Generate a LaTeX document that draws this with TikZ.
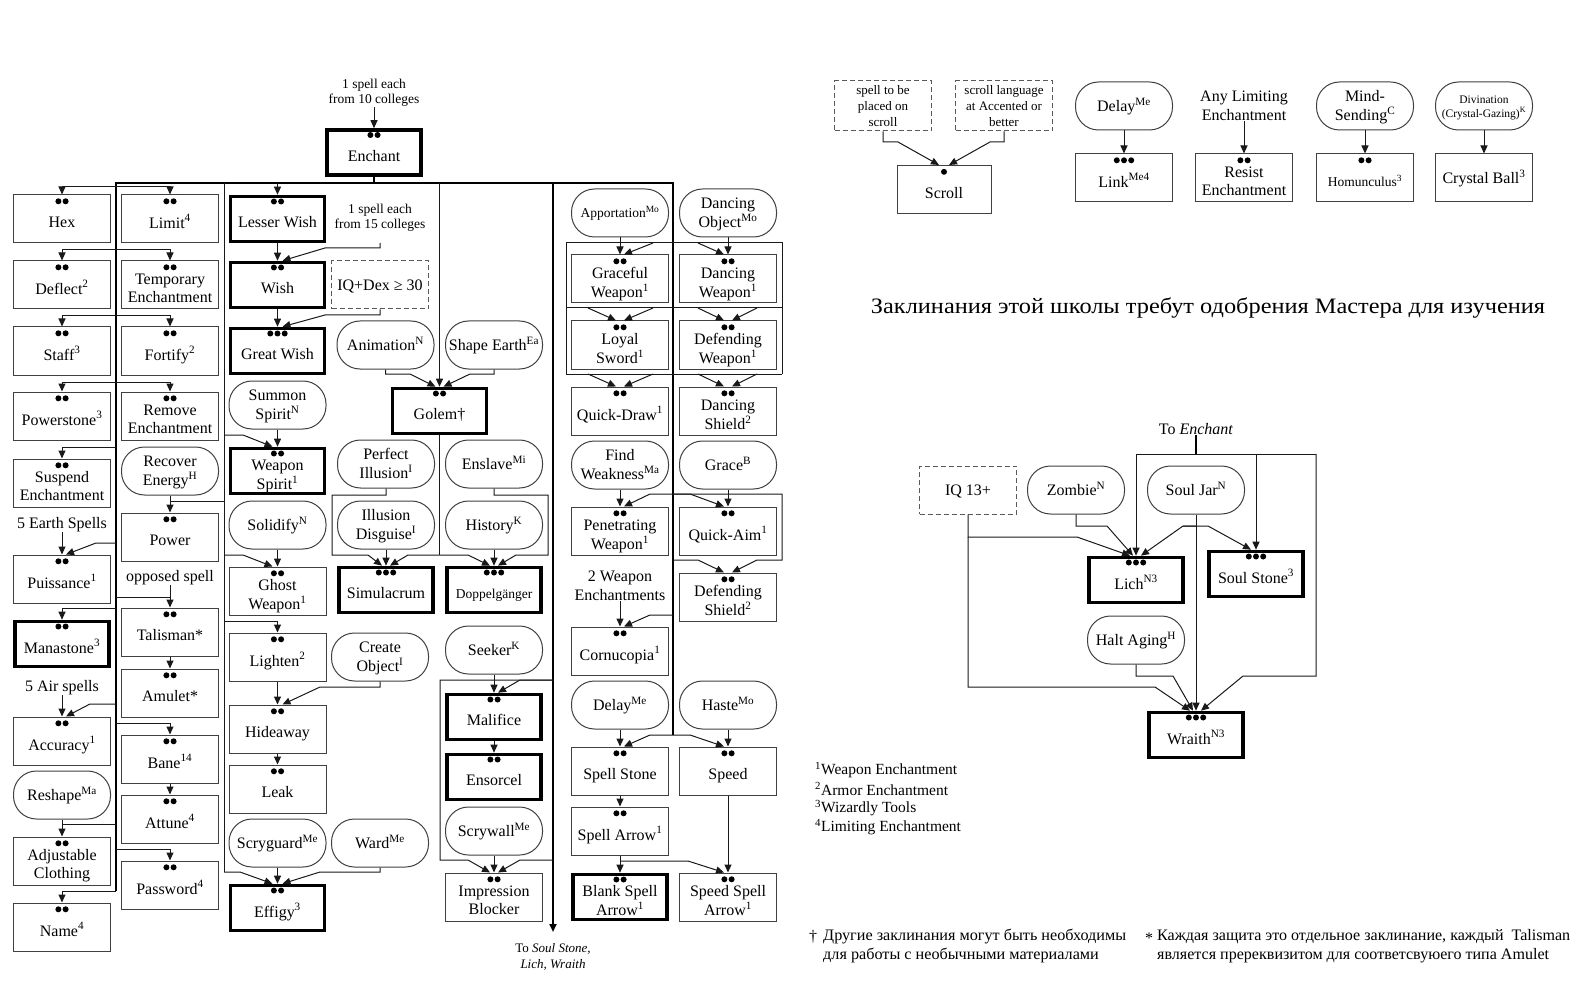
\documentclass[tikz,border=0pt]{standalone}
\usepackage{fontspec}
\setmainfont{Liberation Serif}
\usepackage{graphicx}
\usetikzlibrary{arrows.meta,calc}
\newcommand\fA{\fontsize{16}{18.5}\selectfont}
\newcommand\fB{\fontsize{13.5}{15.5}\selectfont}
\newcommand\fC{\fontsize{13}{16}\selectfont}
\newcommand\fD{\fontsize{11.5}{14}\selectfont}
\newcommand\fF{\fontsize{15.5}{19}\selectfont}
\newcommand\fN{\fontsize{16}{19}\selectfont}
\newcommand\fT{\fontsize{22}{26}\selectfont}
\newcommand\bx[1]{\raisebox{-5pt}[\height][\depth]{\begin{tabular}{@{}c@{}}#1\end{tabular}}}
\newcommand\rx[1]{\raisebox{-1.5pt}[\height][\depth]{\begin{tabular}{@{}c@{}}#1\end{tabular}}}
\newcommand\su[1]{\textsuperscript{#1}}
\newcommand\dtwo[1]{\fill ($(#1.north)+(-3.6,6.8)$) circle[radius=3pt] ($(#1.north)+(3.6,6.8)$) circle[radius=3pt];}
\newcommand\dthree[1]{\fill ($(#1.north)+(-7.2,6.8)$) circle[radius=3pt] ($(#1.north)+(0,6.8)$) circle[radius=3pt] ($(#1.north)+(7.2,6.8)$) circle[radius=3pt];}
\newcommand\done[1]{\fill ($(#1.north)+(0,6.8)$) circle[radius=3pt];}
\begin{document}
\begin{tikzpicture}[x=1pt,y=-1pt,
 base/.style={draw=black!75, line width=1pt, minimum width=97pt, minimum height=48pt, inner sep=1pt, font=\fA},
 box/.style={base},
 tbox/.style={base, draw=black, line width=3.6pt, minimum width=94pt, minimum height=45pt},
 rbox/.style={base, rounded corners=23pt},
 dbox/.style={base, dashed, dash pattern=on 5pt off 3pt, draw=black!65},
 txt/.style={font=\fA, align=center, inner sep=0pt},
 ar/.style={draw=black!90, line width=1pt, -{Triangle[length=8pt,width=7pt]}},
 ln/.style={draw=black!90, line width=1pt},
 bus/.style={draw=black, line width=2pt}]
\useasboundingbox (0,0) rectangle (1588,984);
\fill[white] (0,0) rectangle (1588,984);

% ---------- top
\node[txt,font=\fB] (top1) at (374,93) {1 spell each\\from 10 colleges};
\node[tbox] (enchant) at (374,152.5) {\bx{Enchant}};

% ---------- column 1
\node[box] (hex) at (62,219) {\bx{Hex}};
\node[box] (deflect) at (62,285) {\bx{Deflect\su{2}}};
\node[box] (staff) at (62,351) {\bx{Staff\su{3}}};
\node[box] (powerstone) at (62,416) {\bx{Powerstone\su{3}}};
\node[box] (suspend) at (62,483) {\bx{Suspend\\Enchantment}};
\node[txt] (earth) at (62,525) {5 Earth Spells};
\node[box] (puissance) at (62,579) {\bx{Puissance\su{1}}};
\node[tbox] (manastone) at (62,644) {\bx{Manastone\su{3}}};
\node[txt] (air) at (62,688) {5 Air spells};
\node[box] (accuracy) at (62,741) {\bx{Accuracy\su{1}}};
\node[rbox] (reshape) at (62,795) {\rx{Reshape\su{Ma}}};
\node[box] (adjust) at (62,861) {\bx{Adjustable\\Clothing}};
\node[box] (name) at (62,927) {\bx{Name\su{4}}};

% ---------- column 2
\node[box] (limit) at (170,219) {\bx{Limit\su{4}}};
\node[box] (temp) at (170,285) {\bx{Temporary\\Enchantment}};
\node[box] (fortify) at (170,351) {\bx{Fortify\su{2}}};
\node[box] (remove) at (170,416) {\bx{Remove\\Enchantment}};
\node[rbox] (recover) at (170,471) {\rx{Recover\\Energy\su{H}}};
\node[box] (power) at (170,537) {\bx{Power}};
\node[txt] (opposed) at (170,578) {opposed spell};
\node[box] (talisman) at (170,632) {\bx{Talisman*}};
\node[box] (amulet) at (170,693) {\bx{Amulet*}};
\node[box] (bane) at (170,759) {\bx{Bane\su{14}}};
\node[box] (attune) at (170,819) {\bx{Attune\su{4}}};
\node[box] (password) at (170,885) {\bx{Password\su{4}}};

% ---------- column 3
\node[tbox] (lesser) at (277.5,219) {\bx{Lesser Wish}};
\node[txt,font=\fB] (spell15) at (380,218) {1 spell each\\from 15 colleges};
\node[tbox] (wish) at (277.5,285) {\bx{Wish}};
\node[dbox] (iqdex) at (380,285) {\rx{IQ+Dex ≥ 30}};
\node[tbox] (greatwish) at (277.5,351) {\bx{Great Wish}};
\node[rbox] (summon) at (277.5,405) {\rx{Summon\\Spirit\su{N}}};
\node[tbox] (wspirit) at (277.5,471) {\bx{Weapon\\Spirit\su{1}}};
\node[rbox] (solidify) at (277.5,525) {\rx{Solidify\su{N}}};
\node[box] (ghost) at (277.5,591) {\bx{Ghost\\Weapon\su{1}}};
\node[box] (lighten) at (277.5,657) {\bx{Lighten\su{2}}};
\node[box] (hideaway) at (277.5,729) {\bx{Hideaway}};
\node[box] (leak) at (277.5,789) {\bx{Leak}};
\node[rbox] (scryguard) at (277.5,843) {\rx{Scryguard\su{Me}}};
\node[tbox] (effigy) at (277.5,908) {\bx{Effigy\su{3}}};

% ---------- column 4
\node[rbox] (animation) at (385.5,345) {\rx{Animation\su{N}}};
\node[rbox] (perfect) at (386,464) {\rx{Perfect\\Illusion\su{I}}};
\node[rbox] (disguise) at (386,525) {\rx{Illusion\\Disguise\su{I}}};
\node[tbox] (simulacrum) at (386,590) {\bx{Simulacrum}};
\node[rbox] (createobj) at (380,657) {\rx{Create\\Object\su{I}}};
\node[rbox] (ward) at (380,843) {\rx{Ward\su{Me}}};

% ---------- column 5
\node[rbox] (shapeearth) at (494,345) {\rx{Shape Earth\su{Ea}}};
\node[tbox] (golem) at (439.5,411) {\bx{Golem†}};
\node[rbox] (enslave) at (494,464) {\rx{Enslave\su{Mi}}};
\node[rbox] (history) at (494,525) {\rx{History\su{K}}};
\node[tbox,font=\fB] (doppel) at (494,590) {\bx{Doppelgänger}};
\node[rbox] (seeker) at (494,650) {\rx{Seeker\su{K}}};
\node[tbox] (malifice) at (494,717) {\bx{Malifice}};
\node[tbox] (ensorcel) at (494,777) {\bx{Ensorcel}};
\node[rbox] (scrywall) at (494,831) {\rx{Scrywall\su{Me}}};
\node[box] (impression) at (494,897) {\bx{Impression\\Blocker}};
\node[txt,font=\fC] (tosoul) at (553,957) {To \textit{Soul Stone,}\\\textit{Lich, Wraith}};

% ---------- weapon columns
\node[rbox,font=\fB] (apport) at (620,213) {\rx{Apportation\su{Mo}}};
\node[rbox] (dobj) at (728,213) {\rx{Dancing\\Object\su{Mo}}};
\node[box] (graceful) at (620,279) {\bx{Graceful\\Weapon\su{1}}};
\node[box] (dweapon) at (728,279) {\bx{Dancing\\Weapon\su{1}}};
\node[box] (loyal) at (620,345) {\bx{Loyal\\Sword\su{1}}};
\node[box] (defweapon) at (728,345) {\bx{Defending\\Weapon\su{1}}};
\node[box] (quickdraw) at (620,411) {\bx{Quick-Draw\su{1}}};
\node[box] (dshield) at (728,411) {\bx{Dancing\\Shield\su{2}}};
\node[rbox] (findweak) at (620,465) {\rx{Find\\Weakness\su{Ma}}};
\node[rbox] (grace) at (728,465) {\rx{Grace\su{B}}};
\node[box] (penetr) at (620,531) {\bx{Penetrating\\Weapon\su{1}}};
\node[box] (quickaim) at (728,531) {\bx{Quick-Aim\su{1}}};
\node[box] (defshield) at (728,597) {\bx{Defending\\Shield\su{2}}};
\node[txt] (twoweap) at (620,586) {2 Weapon\\Enchantments};
\node[box] (cornu) at (620,651) {\bx{Cornucopia\su{1}}};
\node[rbox] (delay1) at (620,705) {\rx{Delay\su{Me}}};
\node[rbox] (haste) at (728,705) {\rx{Haste\su{Mo}}};
\node[box] (spellstone) at (620,771) {\bx{Spell Stone}};
\node[box] (speed) at (728,771) {\bx{Speed}};
\node[box] (spellarrow) at (620,831) {\bx{Spell Arrow\su{1}}};
\node[tbox] (blank) at (620,897) {\bx{Blank Spell\\Arrow\su{1}}};
\node[box] (speedarrow) at (728,897) {\bx{Speed Spell\\Arrow\su{1}}};

% ---------- top right
\node[dbox,font=\fC] (spellbox) at (883,106) {\rx{spell to be\\placed on\\scroll}};
\node[dbox,font=\fC] (langbox) at (1004,106) {\rx{scroll language\\at Accented or\\better}};
\node[box,minimum width=94pt] (scroll) at (944,189.5) {\bx{Scroll}};
\node[rbox] (delay2) at (1124,106) {\rx{Delay\su{Me}}};
\node[box] (link) at (1124,178) {\bx{Link\su{Me4}}};
\node[txt] (anylim) at (1244,106) {Any Limiting\\Enchantment};
\node[box] (resist) at (1244,178) {\bx{Resist\\Enchantment}};
\node[rbox] (mind) at (1365,106) {\rx{Mind-\\Sending\su{C}}};
\node[box,font=\fB] (homun) at (1365,178) {\bx{Homunculus\su{3}}};
\node[rbox,font=\fD] (divin) at (1484,106) {\rx{Divination\\(Crystal-Gazing)\su{K}}};
\node[box] (crystal) at (1484,178) {\rx{Crystal Ball\su{3}}};

\node[font=\fT, inner sep=0pt] (title) at (1208,308) {\resizebox{674pt}{\height}{Заклинания этой школы требут одобрения Мастера для изучения}};

% ---------- lower right
\node[txt] (toench) at (1196,429) {To \textit{Enchant}};
\node[dbox] (iq13) at (968,490) {\rx{IQ 13+}};
\node[rbox] (zombie) at (1076,490) {\rx{Zombie\su{N}}};
\node[rbox] (souljar) at (1196,490) {\rx{Soul Jar\su{N}}};
\node[tbox] (lich) at (1136,580) {\bx{Lich\su{N3}}};
\node[tbox] (soulstone) at (1256,574) {\bx{Soul Stone\su{3}}};
\node[rbox] (halt) at (1136,640) {\rx{Halt Aging\su{H}}};
\node[tbox] (wraith) at (1196,735) {\bx{Wraith\su{N3}}};

% ---------- footnotes
\node[anchor=west, font=\fF, inner sep=0pt] (fn1) at (815,770) {\su{1}Weapon Enchantment};
\node[anchor=west, font=\fF, inner sep=0pt] (fn2) at (815,789) {\su{2}Armor Enchantment};
\node[anchor=west, font=\fF, inner sep=0pt] (fn3) at (815,808) {\su{3}Wizardly Tools};
\node[anchor=west, font=\fF, inner sep=0pt] (fn4) at (815,827) {\su{4}Limiting Enchantment};
\node[font=\fN, inner sep=0pt] (dag) at (813,937) {†};
\node[anchor=north west, font=\fN, inner sep=0pt] (note1) at (823,927) {\resizebox{303pt}{\height}{\begin{tabular}{@{}l@{}}Другие заклинания могут быть необходимы\\для работы с необычными материалами\end{tabular}}};
\node[font=\fN, inner sep=0pt] (star) at (1149,938) {*};
\node[anchor=north west, font=\fN, inner sep=0pt] (note2) at (1157,927) {\resizebox{413pt}{\height}{\begin{tabular}{@{}l@{}}Каждая защита это отдельное заклинание, каждый \ Talisman\\является пререквизитом для соответсвуюего типа Amulet\end{tabular}}};

% ---------- dots
\foreach \n in {enchant,hex,deflect,staff,powerstone,suspend,puissance,manastone,accuracy,adjust,name,
 limit,temp,fortify,remove,power,talisman,amulet,bane,attune,password,
 lesser,wish,wspirit,ghost,lighten,hideaway,leak,effigy,golem,malifice,ensorcel,impression,
 graceful,dweapon,loyal,defweapon,quickdraw,dshield,penetr,quickaim,defshield,cornu,spellstone,speed,spellarrow,blank,speedarrow,
 resist,homun}{\dtwo{\n}}
\foreach \n in {greatwish,simulacrum,doppel,link,lich,soulstone,wraith}{\dthree{\n}}
\done{scroll}

% ---------- bus lines
\draw[bus] (enchant.south) -- (374,183);
\draw[bus] (116,891) -- (116,183) -- (673,183) -- (673,735);
\draw[bus,-{Triangle[length=8pt,width=7pt]}] (553,183) -- (553,932);
\draw[ln] (224,183) -- (224,872);
\draw[ar] (top1.south) -- (enchant.north);

% ---------- column 1/2 connectors
\draw[ar] (116,187) -| (hex.north);
\draw[ar] (116,187) -| (limit.north);
\draw[ar] (116,250) -| (deflect.north);
\draw[ar] (116,250) -| (temp.north);
\draw[ar] (116,316) -| (staff.north);
\draw[ar] (116,316) -| (fortify.north);
\draw[ar] (116,382) -| (powerstone.north);
\draw[ar] (116,382) -| (remove.north);
\draw[ar] (116,447) -| (suspend.north);
\draw[ar] (earth.south) -- (puissance.north);
\draw[ar] (116,543) -- (96,543) -- ([xshift=4]puissance.north);
\draw[ar] (116,608) -| (manastone.north);
\draw[ar] (recover.south) -- (power.north);
\draw[ln] (224,501) -- (170,501);
\draw[ar] (opposed.south) -- (talisman.north);
\draw[ln] (116,597) -- (170,597);
\draw[ar] (talisman.south) -- (amulet.north);
\draw[ar] (air.south) -- (accuracy.north);
\draw[ar] (116,704) -- (90,704) -- ([xshift=4]accuracy.north);
\draw[ar] (116,723) -| (bane.north);
\draw[ar] (bane.south) -- (attune.north);
\draw[ar] (116,849) -| (password.north);
\draw[ar] (reshape.south) -- (adjust.north);
\draw[ln] (116,824) -- (62,824);
\draw[ar] (116,891) -| (name.north);

% ---------- column 3 connectors
\draw[ar] (277.5,183) -- (lesser.north);
\draw[ar] (lesser.south) -- (wish.north);
\draw[ar] (380,243) -- (380,248) -- (325,248) -- ([xshift=5]wish.north);
\draw[ar] (wish.south) -- (greatwish.north);
\draw[ar] (iqdex.south) -- (380,315) -- (325,315) -- ([xshift=5]greatwish.north);
\draw[ar] (summon.south) -- (wspirit.north);
\draw[ar] (224,435) -- (243,435) -- ([xshift=-5]wspirit.north);
\draw[ar] (solidify.south) -- (ghost.north);
\draw[ar] (224,555) -- (243,555) -- ([xshift=-5]ghost.north);
\draw[ar] (224,621) -| (lighten.north);
\draw[ar] (lighten.south) -- (hideaway.north);
\draw[ar] (createobj.south) -- (380,687) -- (320,687) -- ([xshift=5]hideaway.north);
\draw[ar] (hideaway.south) -- (leak.north);
\draw[ar] (scryguard.south) -- (effigy.north);
\draw[ar] (ward.south) -- (380,872) -- (320,872) -- ([xshift=5]effigy.north);
\draw[ar] (224,872) -- (240,872) -- ([xshift=-5]effigy.north);

% ---------- column 4/5 connectors
\draw[ar] (439.5,183) -- (golem.north);
\draw[ar] (animation.south) -- (385.5,374) -- (410,374) -- ([xshift=-4]golem.north);
\draw[ar] (shapeearth.south) -- (494,374) -- (470,374) -- ([xshift=4]golem.north);
\draw[ln] (golem.south) -- (439.5,555);
\draw[ar] (439.5,555) -- (408,555) -- ([xshift=4]simulacrum.north);
\draw[ar] (439.5,555) -- (468,555) -- ([xshift=-4]doppel.north);
\draw[ar] (perfect.south) -- (386,495) -- (332,495) -- (332,555) -- (368,555) -- ([xshift=-4]simulacrum.north);
\draw[ar] (disguise.south) -- (simulacrum.north);
\draw[ar] (enslave.south) -- (494,495) -- (548,495) -- (548,555) -- (516,555) -- ([xshift=4]doppel.north);
\draw[ar] (history.south) -- (doppel.north);
\draw[ar] (seeker.south) -- (malifice.north);
\draw[ar] (553,680) -- (520,680) -- ([xshift=4]malifice.north);
\draw[ar] (553,680) -- (440,680) -- (440,860) -- (468,860) -- ([xshift=-4]impression.north);
\draw[ar] (553,860) -- (520,860) -- ([xshift=4]impression.north);
\draw[ar] (malifice.south) -- (ensorcel.north);
\draw[ar] (scrywall.south) -- (impression.north);

% ---------- weapon connectors
\draw[ar] (apport.south) -- (graceful.north);
\draw[ar] (dobj.south) -- (dweapon.north);
\draw[ln] (566,374) -- (566,243) -- (782,243) -- (782,374);
\draw[ln] (566,308) -- (782,308);
\draw[ln] (566,374) -- (782,374);
\draw[ar] (653,243) -- ([xshift=4]graceful.north);
\draw[ar] (698,243) -- ([xshift=-4]dweapon.north);
\draw[ar] (588,308) -- ([xshift=-4]loyal.north);
\draw[ar] (653,308) -- ([xshift=4]loyal.north);
\draw[ar] (698,308) -- ([xshift=-4]defweapon.north);
\draw[ar] (757,308) -- ([xshift=4]defweapon.north);
\draw[ar] (588,374) -- ([xshift=-4]quickdraw.north);
\draw[ar] (653,374) -- ([xshift=4]quickdraw.north);
\draw[ar] (698,374) -- ([xshift=-4]dshield.north);
\draw[ar] (757,374) -- ([xshift=4]dshield.north);
\draw[ar] (findweak.south) -- (penetr.north);
\draw[ar] (grace.south) -- (quickaim.north);
\draw[ar] (673,494) -- (650,494) -- ([xshift=4]penetr.north);
\draw[ar] (673,494) -- (690,494) -- ([xshift=-4]quickaim.north);
\draw[ar] (673,494) -- (782,494) -- (782,560) -- (757,560) -- ([xshift=4]defshield.north);
\draw[ar] (673,560) -- (698,560) -- ([xshift=-4]defshield.north);
\draw[ar] (twoweap.south) -- (cornu.north);
\draw[ar] (673,615) -- (650,615) -- ([xshift=4]cornu.north);
\draw[ar] (delay1.south) -- (spellstone.north);
\draw[ar] (haste.south) -- (speed.north);
\draw[ar] (673,735) -- (650,735) -- ([xshift=4]spellstone.north);
\draw[ar] (673,735) -- (690,735) -- ([xshift=-4]speed.north);
\draw[ar] (spellstone.south) -- (spellarrow.north);
\draw[ar] (spellarrow.south) -- (blank.north);
\draw[ar] (620,861) -- (688,861) -- ([xshift=-4]speedarrow.north);
\draw[ar] (speed.south) -- (speedarrow.north);

% ---------- top right connectors
\draw[ar] (spellbox.south) -- (883,142) -- (898,142) -- ([xshift=-5]scroll.north);
\draw[ar] (langbox.south) -- (1004,142) -- (990,142) -- ([xshift=5]scroll.north);
\draw[ar] (delay2.south) -- (link.north);
\draw[ar] (anylim.south) -- (resist.north);
\draw[ar] (mind.south) -- (homun.north);
\draw[ar] (divin.south) -- (crystal.north);

% ---------- lower right connectors
\draw[bus] (toench.south) -- (1196,454);
\draw[ln] (1136,454) -- (1316,454);
\draw[ar] (1136,454) -- (lich.north);
\draw[ar] (1256,454) -- (soulstone.north);
\draw[ar] (1316,454) -- (1316,676) -- (1243,676) -- ([xshift=5]wraith.north);
\draw[ar] (iq13.south) -- (968,537) -- (1077,537) -- ([xshift=-6]lich.north);
\draw[ar] (968,537) -- (968,687) -- (1155,687) -- ([xshift=-6]wraith.north);
\draw[ar] (zombie.south) -- (1076,526) -- (1107,526) -- ([xshift=-3]lich.north);
\draw[ar] (souljar.south) -- (wraith.north);
\draw[ar] (1196,526) -- (1183,526) -- ([xshift=5]lich.north);
\draw[ar] (1183,526) -- (1208,526) -- ([xshift=-5]soulstone.north);
\draw[ar] (halt.south) -- (1136,676) -- (1173,676) -- ([xshift=-3]wraith.north);
\end{tikzpicture}
\end{document}
